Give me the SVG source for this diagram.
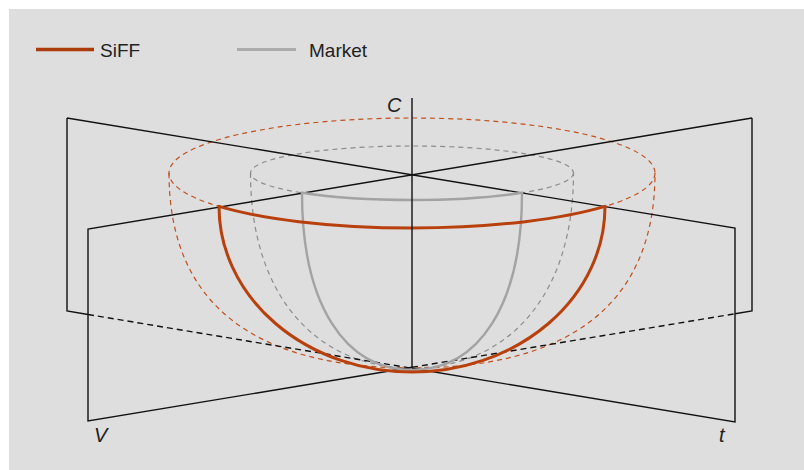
<svg xmlns="http://www.w3.org/2000/svg" width="804" height="470" viewBox="0 0 804 470">
<style>
.bg{fill:#dedede}
.pl{fill:none;stroke:#111;stroke-width:1.4}
.pld{fill:none;stroke:#111;stroke-width:1.4;stroke-dasharray:6 4}
.od{fill:none;stroke:#c0501c;stroke-width:1.2;stroke-dasharray:5 4}
.gd{fill:none;stroke:#8c8c8c;stroke-width:1.2;stroke-dasharray:5 4}
.os{fill:none;stroke:#b8400c;stroke-width:3;stroke-linecap:round}
.gs{fill:none;stroke:#a3a3a3;stroke-width:2.4;stroke-linecap:round}
.lbl{font-family:"Liberation Sans",Arial,sans-serif;font-size:19px;fill:#222}
.ax{font-family:"Liberation Sans",Arial,sans-serif;font-size:20px;font-style:italic;fill:#222}
</style>
<rect width="804" height="470" fill="#ffffff"/>
<rect class="bg" x="9" y="9" width="795" height="461"/>
<g id="legend">
<line x1="36" y1="49.5" x2="94" y2="49.5" stroke="#ab3b0a" stroke-width="3.5"/>
<text class="lbl" x="100" y="57">SiFF</text>
<line x1="237" y1="49.5" x2="296" y2="49.5" stroke="#ababab" stroke-width="3"/>
<text class="lbl" x="309" y="57">Market</text>
</g>
<g id="market-dashed">
<ellipse class="gd" cx="412" cy="173" rx="161.5" ry="27"/>
<path class="gd" d="M250.5,173 C250.5,300 320,368 412,368 C504,368 573.5,300 573.5,173"/>
</g>
<g id="siff-dashed">
<ellipse class="od" cx="412" cy="173" rx="243" ry="55"/>
<path class="od" d="M169,173 C169,310 262,368 412,368 C562,368 655,310 655,173"/>
</g>
<g id="planes">
<path class="pl" d="M67,118 L735,228 L735,422 L412,368.3"/>
<path class="pl" d="M88,314.5 L67,311 L67,118"/>
<path class="pld" d="M88,314.5 L412,368.3"/>
<path class="pl" d="M752,118 L88,229 L88,421 L412,367.3"/>
<path class="pl" d="M735,313.8 L752,311 L752,118"/>
<path class="pld" d="M412,367.3 L735,313.8"/>
</g>
<g id="market">
<path class="gs" d="M302,192.8 A161.5,27 0 0,0 522,192.8"/>
<path class="gs" d="M302,192.8 C302,305 345,370 412,370 C479,370 522,305 522,192.8"/>
</g>
<g id="siff">
<path class="os" d="M219,206.4 A243,55 0 0,0 605,206.4"/>
<path class="os" d="M219,206.4 A193,165.6 0 0,0 412,372 A193,165.6 0 0,0 605,206.4"/>
</g>
<g id="axis-c">
<line class="pl" x1="412" y1="98" x2="412" y2="368"/>
<text class="ax" x="387" y="112">C</text>
</g>
<g id="axis-v"><text class="ax" x="94" y="442">V</text></g>
<g id="axis-t"><text class="ax" x="719" y="442">t</text></g>
</svg>
